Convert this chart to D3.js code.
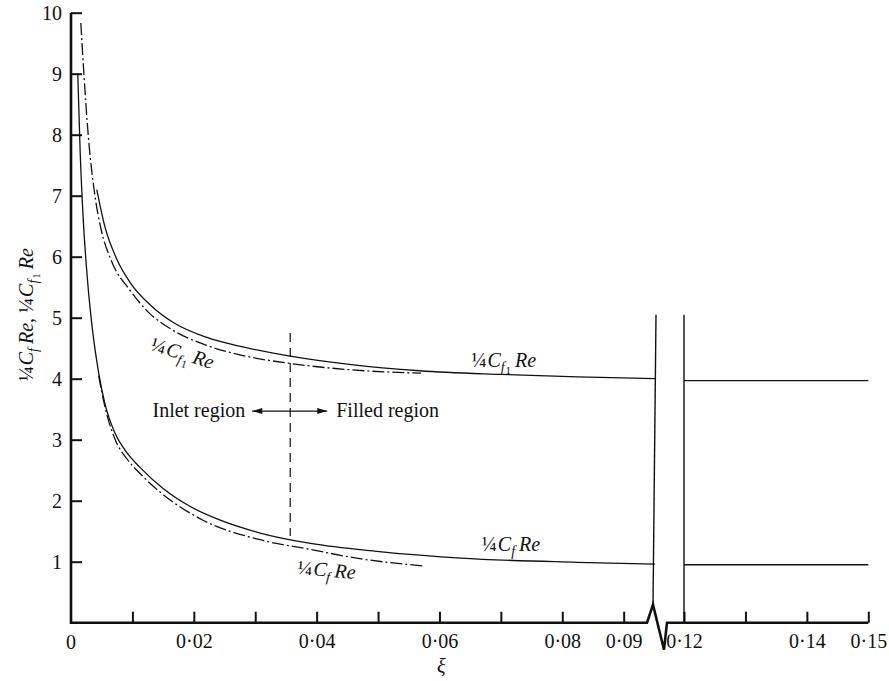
<!DOCTYPE html>
<html><head><meta charset="utf-8">
<script src="https://cdn.jsdelivr.net/npm/d3@7"></script>
<style>body{margin:0;background:#fff}svg{display:block}text{font-family:"Liberation Serif","DejaVu Serif",serif;fill:#111}</style>
</head><body><svg id="c" width="889" height="681"></svg>
<script>
// ---- data ----
const yTicks = [1,2,3,4,5,6,7,8,9,10];
const xTicks = [0.01,0.02,0.03,0.04,0.05,0.06,0.07,0.08,0.09,0.12,0.13,0.14,0.15];
const xTickLabels = {0.02:"0·02",0.04:"0·04",0.06:"0·06",0.08:"0·08",0.09:"0·09",0.12:"0·12",0.14:"0·14",0.15:"0·15"};
const xBreak = [0.0951, 0.12];
const boundaryXi = 0.0357;

const cf1FullXi  = [0.0042,0.0055,0.0075,0.0096,0.013,0.017,0.022,0.028,0.0357,0.045,0.0568,0.07,0.0825,0.0951];
const cf1FullVal = [7.1,6.5,5.95,5.58,5.2,4.9,4.68,4.52,4.37,4.24,4.13,4.07,4.03,4.0];
const cf1FarXi   = [0.12,0.15];
const cf1FarVal  = [3.97,3.97];

const cf1InletXi  = [0.0016,0.0021,0.0028,0.0039,0.0049,0.0065,0.0096,0.0125,0.0165,0.022,0.028,0.0357,0.045,0.057];
const cf1InletVal = [9.83,9.0,8.0,7.0,6.45,5.95,5.45,5.1,4.8,4.55,4.38,4.25,4.15,4.09];

const cfFullXi  = [0.0011,0.0015,0.0020,0.0027,0.0035,0.0045,0.0055,0.0072,0.0090,0.0112,0.015,0.0195,0.0243,0.0308,0.039,0.0498,0.0634,0.0824,0.0951];
const cfFullVal = [9.0,7.7,6.6,5.6,4.8,4.1,3.6,3.1,2.8,2.55,2.2,1.9,1.68,1.47,1.30,1.17,1.06,0.99,0.96];
const cfFarXi   = [0.12,0.15];
const cfFarVal  = [0.95,0.95];

const cfInletXi  = [0.0045,0.0055,0.0072,0.009,0.0112,0.015,0.0215,0.0308,0.039,0.047,0.0575];
const cfInletVal = [4.05,3.55,3.0,2.7,2.45,2.1,1.68,1.36,1.2,1.05,0.93];

// ---- scales ----
const svg = d3.select("#c");
const x = d3.scaleLinear().domain([0, xBreak[0], xBreak[1], 0.15]).range([71, 655, 684, 868.3]);
const y = d3.scaleLinear().domain([0, 10]).range([622.7, 12.7]);
const zip = (a,b) => a.map((v,i)=>[v,b[i]]);
const line = d3.line().x(d=>x(d[0])).y(d=>y(d[1])).curve(d3.curveMonotoneX);

// ---- axes ----
const xAxis = d3.axisBottom(x).tickValues(xTicks).tickSize(-11).tickPadding(11)
  .tickFormat(d => xTickLabels[d] || "");
const gx = svg.append("g").attr("transform",`translate(0,${y(0)})`).call(xAxis);
gx.select(".domain").remove();
gx.selectAll(".tick line").attr("stroke","#111").attr("stroke-width",2);
gx.selectAll(".tick text").style("font-size","20px").attr("fill","#111");

const yAxis = d3.axisLeft(y).tickValues(yTicks).tickSize(-11).tickPadding(9);
const gy = svg.append("g").attr("transform",`translate(${x(0)},0)`).call(yAxis);
gy.select(".domain").remove();
gy.selectAll(".tick line").attr("stroke","#111").attr("stroke-width",2);
gy.selectAll(".tick text").style("font-size","20px").attr("fill","#111");

// axis lines with break
const y0 = y(0), xb0 = x(xBreak[0]), xb1 = x(xBreak[1]);
svg.append("path").attr("fill","none").attr("stroke","#111").attr("stroke-width",2.6)
  .attr("stroke-linejoin","miter")
  .attr("d", `M${x(0)},${y(10)}V${y0}H${xb0-8}L${xb0-2},${y0-18}L${xb0+9},${y0+27}L${xb0+12},${y0}H${x(0.15)}`);
// break verticals
svg.append("path").attr("fill","none").attr("stroke","#111").attr("stroke-width",1.4)
  .attr("d", `M${xb0+1},${y(5.05)}L${xb0-2},${y0-18}`);
svg.append("path").attr("fill","none").attr("stroke","#111").attr("stroke-width",1.4)
  .attr("d", `M${xb1},${y(5.05)}V${y0}`);

svg.append("text").attr("x",x(0)).attr("y",y0+26).attr("text-anchor","middle").style("font-size","20px").text("0");

// ---- curves ----
function draw(data, dash){
  const p = svg.append("path").attr("d", line(data)).attr("stroke","#111").attr("stroke-width",1.3).attr("fill","none");
  if(dash) p.attr("stroke-dasharray", dash);
}
draw(zip(cf1FullXi, cf1FullVal));
draw(zip(cf1FarXi, cf1FarVal));
draw(zip(cfFullXi, cfFullVal));
draw(zip(cfFarXi, cfFarVal));
draw(zip(cf1InletXi, cf1InletVal), "12,3,2,3");
draw(zip(cfInletXi, cfInletVal), "12,3,2,3");

// boundary dashed
svg.append("line").attr("x1",x(boundaryXi)).attr("x2",x(boundaryXi))
  .attr("y1",y(4.75)).attr("y2",y(1.42)).attr("stroke","#111").attr("stroke-width",1.2)
  .attr("stroke-dasharray","9,6");

// arrows
svg.append("defs").append("marker").attr("id","ah").attr("viewBox","0 0 10 6")
  .attr("refX",10).attr("refY",3).attr("markerWidth",9).attr("markerHeight",5).attr("orient","auto-start-reverse")
  .append("path").attr("d","M0,0L10,3L0,6Z").attr("fill","#111");
const ay = y(3.47);
svg.append("line").attr("x1",x(boundaryXi)-38).attr("x2",x(boundaryXi)+37).attr("y1",ay).attr("y2",ay)
  .attr("stroke","#111").attr("stroke-width",1.2).attr("marker-start","url(#ah)").attr("marker-end","url(#ah)");
svg.append("text").attr("x",x(boundaryXi)-45).attr("y",ay+6).attr("text-anchor","end").style("font-size","20px").text("Inlet region");
svg.append("text").attr("x",x(boundaryXi)+46).attr("y",ay+6).attr("text-anchor","start").style("font-size","20px").text("Filled region");

// ---- labels ----
function cfLabel(g, sub1){
  g.style("font-size","20px");
  g.append("tspan").text("¼");
  g.append("tspan").attr("font-style","italic").attr("dx",1).text("C");
  g.append("tspan").attr("font-style","italic").attr("font-size","14px").attr("dy",5).text("f");
  if(sub1){ g.append("tspan").attr("font-size","11px").attr("dy",2).attr("dx",1).text("1"); g.append("tspan").attr("dy",-7).attr("dx",4).attr("font-style","italic").text("Re"); }
  else { g.append("tspan").attr("dy",-5).attr("dx",4).attr("font-style","italic").text("Re"); }
  return g;
}
cfLabel(svg.append("text").attr("x",x(0.0652)).attr("y",y(4.19)), true);
cfLabel(svg.append("text").attr("x",x(0.0669)).attr("y",y(1.175)), false);
cfLabel(svg.append("text").attr("transform",`translate(${x(0.0368)},${y(0.8)}) rotate(5)`), false);
cfLabel(svg.append("text").attr("transform",`translate(${x(0.0128)},${y(4.47)}) rotate(17)`), true);

// y axis title
const yt = svg.append("text").attr("transform",`translate(33,${y(5.05)}) rotate(-90)`).attr("text-anchor","middle").style("font-size","20px");
yt.append("tspan").text("¼");
yt.append("tspan").attr("font-style","italic").attr("dx",1).text("C");
yt.append("tspan").attr("font-style","italic").attr("font-size","14px").attr("dy",5).text("f");
yt.append("tspan").attr("font-style","italic").attr("dy",-5).attr("dx",4).text("Re");
yt.append("tspan").text(",  ¼");
yt.append("tspan").attr("font-style","italic").attr("dx",1).text("C");
yt.append("tspan").attr("font-style","italic").attr("font-size","14px").attr("dy",5).text("f");
yt.append("tspan").attr("font-size","11px").attr("dy",2).attr("dx",1).text("1");
yt.append("tspan").attr("font-style","italic").attr("dy",-7).attr("dx",4).text("Re");

svg.append("text").attr("x",x(0.0603)).attr("y",673).attr("text-anchor","middle").attr("font-style","italic").style("font-size","20px").text("ξ");
</script></body></html>
